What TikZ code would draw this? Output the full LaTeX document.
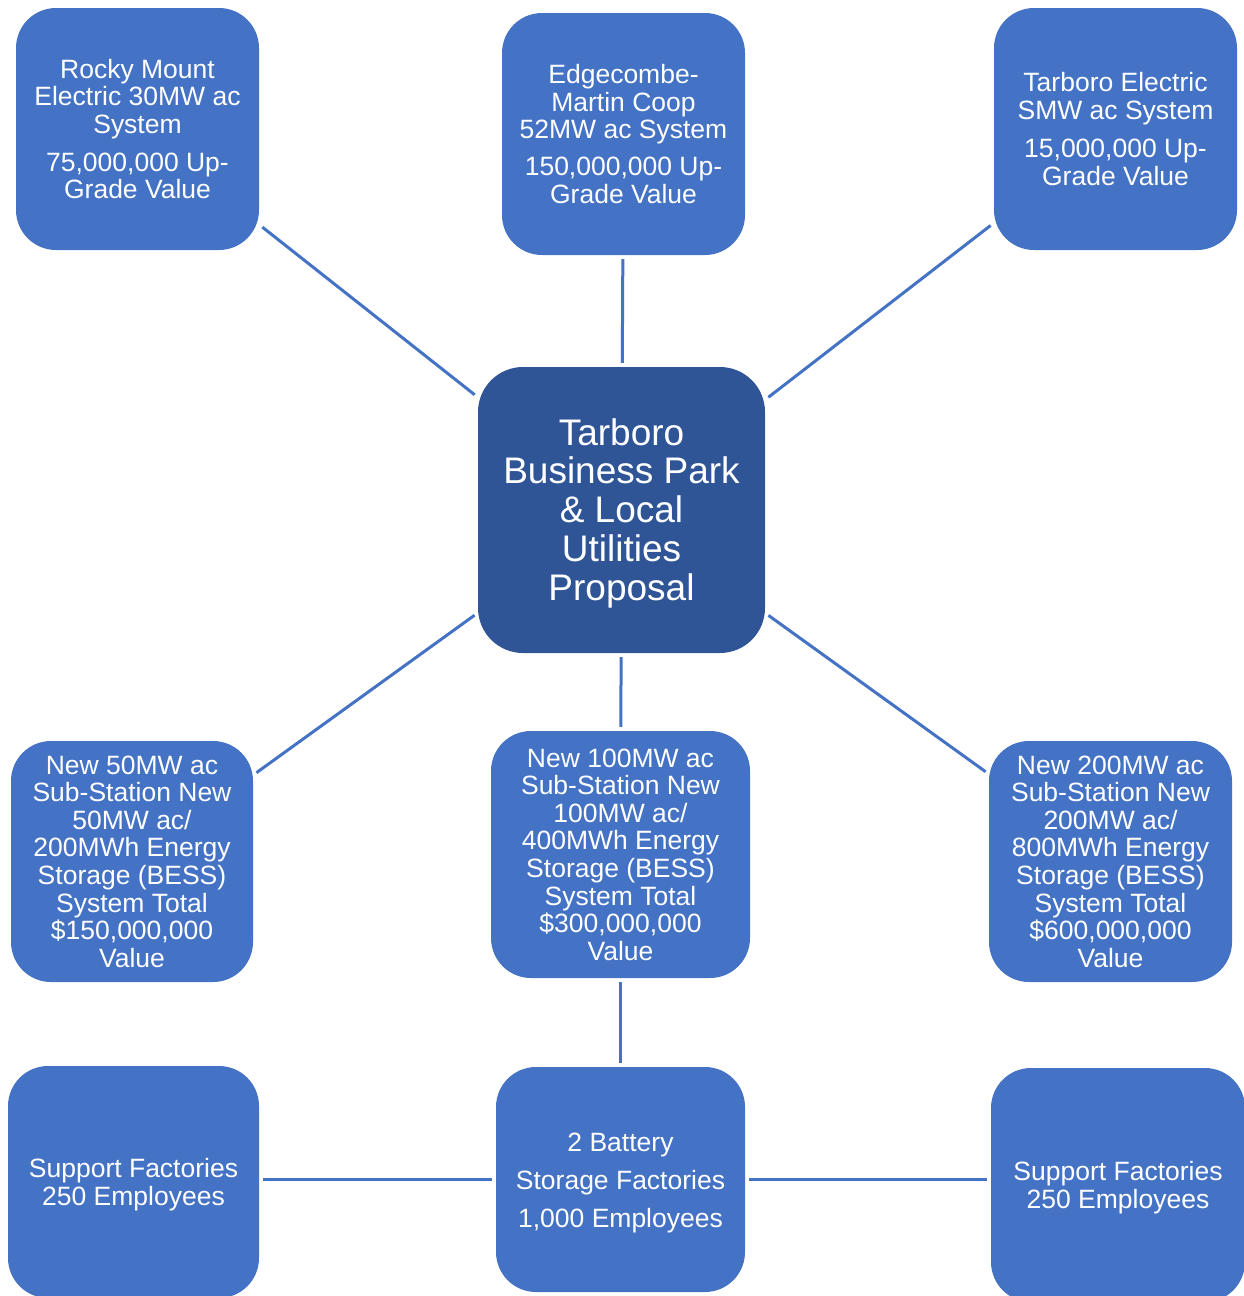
\documentclass[tikz,border=0pt]{standalone}
\usepackage{fontspec}
\setmainfont{Liberation Sans}
\definecolor{boxblue}{HTML}{4472C4}
\definecolor{darkblue}{HTML}{2F5597}
\newcommand{\dropby}[1]{\rule{0pt}{#1}}
\begin{document}
\begin{tikzpicture}[x=1pt,y=-1pt,
  box/.style={fill=boxblue, rounded corners=40pt, text=white, align=center, inner sep=0pt, font=\fontsize{26.5}{27.6}\selectfont},
  hub/.style={fill=darkblue, rounded corners=45pt, text=white, align=center, inner sep=0pt, font=\fontsize{37}{38.8}\selectfont},
  link/.style={draw=boxblue, line width=3pt, shorten <=4pt, shorten >=4pt}]
\useasboundingbox (0,0) rectangle (1244,1296);
\clip (0,0) rectangle (1244,1296);
\node[box, minimum width=243pt, minimum height=242pt] (rocky) at (137.5,129)
  {Rocky Mount\\Electric 30MW ac\\System\\[10pt]75,000,000 Up-\\Grade Value};
\node[box, minimum width=243pt, minimum height=242pt] (edge) at (623.5,134)
  {Edgecombe-\\Martin Coop\\52MW ac System\\[9pt]150,000,000 Up-\\Grade Value};
\node[box, minimum width=243pt, minimum height=242pt] (tarb) at (1115.5,129)
  {Tarboro Electric\\SMW ac System\\[11pt]15,000,000 Up-\\Grade Value};
\node[hub, minimum width=287pt, minimum height=286pt] (hub) at (621.5,510)
  {\dropby{33pt}Tarboro\\Business Park\\\& Local\\Utilities\\Proposal};
\node[box, minimum width=242pt, minimum height=241pt] (sub50) at (132,861.5)
  {New 50MW ac\\Sub-Station New\\50MW ac/\\200MWh Energy\\Storage (BESS)\\System Total\\\$150,000,000\\Value};
\node[box, minimum width=259pt, minimum height=247pt] (sub100) at (620.5,854.5)
  {New 100MW ac\\Sub-Station New\\100MW ac/\\400MWh Energy\\Storage (BESS)\\System Total\\\$300,000,000\\Value};
\node[box, minimum width=243pt, minimum height=241pt] (sub200) at (1110.5,861.5)
  {New 200MW ac\\Sub-Station New\\200MW ac/\\800MWh Energy\\Storage (BESS)\\System Total\\\$600,000,000\\Value};
\node[box, minimum width=251pt, minimum height=232pt] (supL) at (133.5,1182)
  {\dropby{24pt}Support Factories\\250 Employees};
\node[box, minimum width=249pt, minimum height=225pt] (batt) at (620.5,1179.5)
  {\dropby{25pt}2 Battery\\[10.5pt]Storage Factories\\[10.5pt]1,000 Employees};
\node[box, minimum width=254pt, minimum height=234pt] (supR) at (1118,1185)
  {\dropby{24pt}Support Factories\\250 Employees};
\draw[link] (rocky) -- (hub);
\draw[link] (edge) -- (hub);
\draw[link] (tarb) -- (hub);
\draw[link] (hub) -- (sub50);
\draw[link] (hub) -- (sub100);
\draw[link] (hub) -- (sub200);
\draw[link] (sub100) -- (batt);
\draw[link] (supL.east |- batt.west) -- (batt.west);
\draw[link] (batt.east) -- (batt.east -| supR.west);
\end{tikzpicture}
\end{document}
